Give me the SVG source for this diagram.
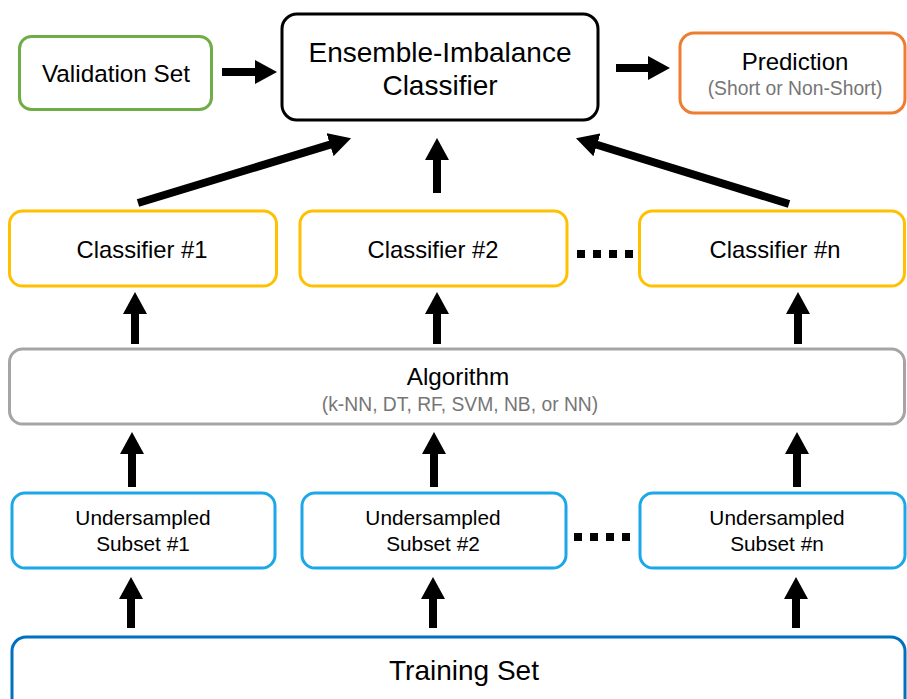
<svg xmlns="http://www.w3.org/2000/svg" width="907" height="699" viewBox="0 0 907 699">
  <style>
    .box { fill: #ffffff; stroke-width: 3; }
    .lbl { font-family: "Liberation Sans", Arial, sans-serif; fill: #000000; text-anchor: middle; }
    .sub { font-family: "Liberation Sans", Arial, sans-serif; fill: #767676; text-anchor: middle; font-size: 19.3px; }
    .arrow { stroke: #000000; stroke-width: 8; fill: none; marker-end: url(#ah); }
    .dots { stroke: #000000; stroke-width: 8; stroke-dasharray: 8 8; fill: none; }
  </style>
  <defs>
    <marker id="ah" markerUnits="userSpaceOnUse" markerWidth="22" markerHeight="24" viewBox="0 0 22 24" refX="1" refY="12" orient="auto">
      <path d="M0,0 L22,12 L0,24 z" fill="#000000"/>
    </marker>
  </defs>
  <rect width="907" height="699" fill="#ffffff"/>

  <!-- top row -->
  <g id="validation-set">
    <rect class="box" x="19.5" y="36.5" width="192" height="73" rx="12" stroke="#70AD47"/>
    <text class="lbl" x="116" y="82" font-size="24.3">Validation Set</text>
  </g>
  <g id="ensemble-classifier">
    <rect class="box" x="282" y="14" width="316" height="106" rx="15" stroke="#000000"/>
    <text class="lbl" x="440" y="62" font-size="28">Ensemble-Imbalance</text>
    <text class="lbl" x="440" y="95" font-size="28">Classifier</text>
  </g>
  <g id="prediction">
    <rect class="box" x="680" y="33" width="225" height="80" rx="14" stroke="#ED7D31"/>
    <text class="lbl" x="795" y="70" font-size="24">Prediction</text>
    <text class="sub" x="795" y="95">(Short or Non-Short)</text>
  </g>

  <!-- classifiers -->
  <g id="classifier-1">
    <rect class="box" x="9.5" y="211" width="267" height="75" rx="13" stroke="#FFC000"/>
    <text class="lbl" x="142" y="258" font-size="23.8">Classifier #1</text>
  </g>
  <g id="classifier-2">
    <rect class="box" x="300" y="211" width="267" height="75" rx="13" stroke="#FFC000"/>
    <text class="lbl" x="433" y="258" font-size="23.8">Classifier #2</text>
  </g>
  <g id="classifier-n">
    <rect class="box" x="639.5" y="211" width="265" height="75" rx="13" stroke="#FFC000"/>
    <text class="lbl" x="775" y="258" font-size="23.8">Classifier #n</text>
  </g>

  <!-- algorithm -->
  <g id="algorithm">
    <rect class="box" x="9.5" y="349" width="895" height="75" rx="13" stroke="#A5A5A5"/>
    <text class="lbl" x="458" y="385" font-size="24.3">Algorithm</text>
    <text class="sub" x="460" y="411">(k-NN, DT, RF, SVM, NB, or NN)</text>
  </g>

  <!-- undersampled subsets -->
  <g id="subset-1">
    <rect class="box" x="12" y="493" width="263" height="75" rx="13" stroke="#1AA8E8"/>
    <text class="lbl" x="143" y="525" font-size="20.8">Undersampled</text>
    <text class="lbl" x="143" y="551" font-size="20.8">Subset #1</text>
  </g>
  <g id="subset-2">
    <rect class="box" x="302" y="493" width="264" height="75" rx="13" stroke="#1AA8E8"/>
    <text class="lbl" x="433" y="525" font-size="20.8">Undersampled</text>
    <text class="lbl" x="433" y="551" font-size="20.8">Subset #2</text>
  </g>
  <g id="subset-n">
    <rect class="box" x="640" y="493" width="265" height="75" rx="13" stroke="#1AA8E8"/>
    <text class="lbl" x="777" y="525" font-size="20.8">Undersampled</text>
    <text class="lbl" x="777" y="551" font-size="20.8">Subset #n</text>
  </g>

  <!-- training set -->
  <g id="training-set">
    <rect class="box" x="12" y="637" width="893" height="80" rx="14" stroke="#0070C0"/>
    <text class="lbl" x="464" y="680" font-size="28">Training Set</text>
  </g>

  <!-- connectors -->
  <g id="connectors">
    <line class="arrow" x1="222" y1="72" x2="256" y2="72"/>
    <line class="arrow" x1="616" y1="68" x2="649" y2="68"/>
    <line class="arrow" x1="138" y1="203" x2="331" y2="144.4"/>
    <line class="arrow" x1="437" y1="193" x2="437" y2="159"/>
    <line class="arrow" x1="789" y1="204" x2="596" y2="144.5"/>

    <line class="arrow" x1="135" y1="344" x2="135" y2="313"/>
    <line class="arrow" x1="437" y1="344" x2="437" y2="313"/>
    <line class="arrow" x1="798" y1="344" x2="798" y2="313"/>

    <line class="arrow" x1="132" y1="487" x2="132" y2="453"/>
    <line class="arrow" x1="434" y1="487" x2="434" y2="453"/>
    <line class="arrow" x1="797" y1="487" x2="797" y2="453"/>

    <line class="arrow" x1="131" y1="628" x2="131" y2="598"/>
    <line class="arrow" x1="433" y1="628" x2="433" y2="598"/>
    <line class="arrow" x1="796" y1="628" x2="796" y2="598"/>

    <line class="dots" x1="577" y1="254" x2="633" y2="254"/>
    <line class="dots" x1="574" y1="537" x2="630" y2="537"/>
  </g>
</svg>
